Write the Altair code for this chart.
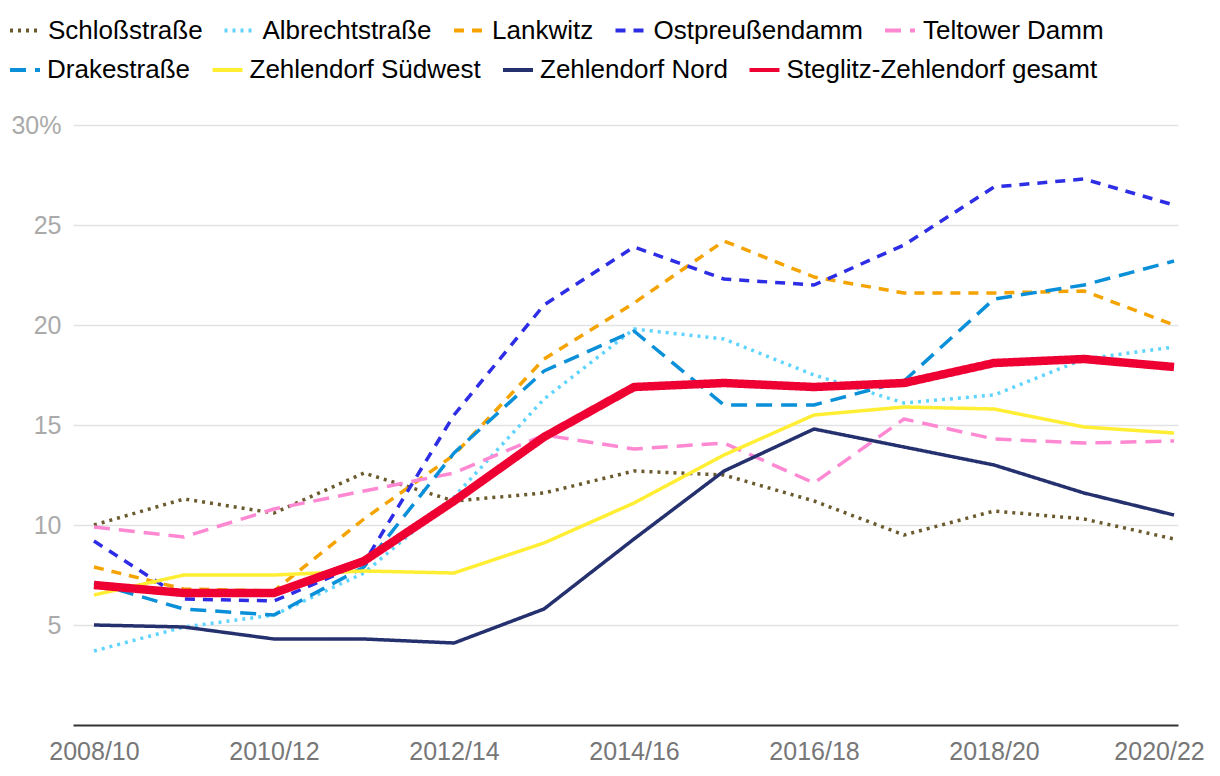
import altair as alt
import pandas as pd

periods = ["2008/10", "2009/11", "2010/12", "2011/13", "2012/14", "2013/15", "2014/16",
           "2015/17", "2016/18", "2017/19", "2018/20", "2019/21", "2020/22"]

series_names = ["Schloßstraße", "Albrechtstraße", "Lankwitz", "Ostpreußendamm", "Teltower Damm",
                "Drakestraße", "Zehlendorf Südwest", "Zehlendorf Nord", "Steglitz-Zehlendorf gesamt"]

schlossstrasse = [10.0, 11.3, 10.6, 12.6, 11.2, 11.6, 12.7, 12.5, 11.2, 9.5, 10.7, 10.3, 9.3]
albrechtstrasse = [3.7, 4.9, 5.5, 7.6, 11.4, 16.3, 19.8, 19.3, 17.5, 16.1, 16.5, 18.3, 18.9]
lankwitz = [7.9, 6.8, 6.7, 10.3, 13.5, 18.3, 21.1, 24.2, 22.4, 21.6, 21.6, 21.7, 20.0]
ostpreussendamm = [9.2, 6.3, 6.2, 8.1, 15.5, 21.0, 23.9, 22.3, 22.0, 24.0, 26.9, 27.3, 26.0]
teltower_damm = [9.9, 9.4, 10.8, 11.7, 12.6, 14.5, 13.8, 14.1, 12.1, 15.3, 14.3, 14.1, 14.2]
drakestrasse = [7.1, 5.8, 5.5, 7.9, 13.6, 17.7, 19.7, 16.0, 16.0, 17.2, 21.3, 22.0, 23.2]
zehlendorf_suedwest = [6.5, 7.5, 7.5, 7.7, 7.6, 9.1, 11.1, 13.5, 15.5, 15.9, 15.8, 14.9, 14.6]
zehlendorf_nord = [5.0, 4.9, 4.3, 4.3, 4.1, 5.8, 9.3, 12.7, 14.8, 13.9, 13.0, 11.6, 10.5]
gesamt = [7.0, 6.6, 6.6, 8.2, 11.2, 14.4, 16.9, 17.1, 16.9, 17.1, 18.1, 18.3, 17.9]

all_values = [schlossstrasse, albrechtstrasse, lankwitz, ostpreussendamm, teltower_damm,
              drakestrasse, zehlendorf_suedwest, zehlendorf_nord, gesamt]

colors = ["#6b5a2e", "#5fd4ff", "#f5a300", "#2d2de6", "#ff88d2",
          "#0a8fd9", "#ffee33", "#25306e", "#ee0033"]
dashes = [[3, 5], [3, 5], [10, 8], [10, 8], [16, 9],
          [16, 9], [1, 0], [1, 0], [1, 0]]
thin_width = 3.5
thick_width = 8.5
thick_series = "Steglitz-Zehlendorf gesamt"

rows = []
for name, vals in zip(series_names, all_values):
    for i, (p, v) in enumerate(zip(periods, vals)):
        rows.append({"Gebiet": name, "idx": i, "Zeitraum": p, "Wert": v})
df = pd.DataFrame(rows)

label_expr = "[" + ",".join("'" + p + "'" for p in periods) + "][datum.value]"

x_enc = alt.X("idx:Q",
              scale=alt.Scale(domain=[-0.233, 12.044], nice=False, zero=False),
              axis=alt.Axis(title=None, values=list(range(0, 13, 2)), labelExpr=label_expr,
                            grid=False, ticks=False, domainColor="#333333", domainWidth=2,
                            labelFontSize=25, labelFont="Liberation Sans", labelColor="#777777",
                            labelPadding=14,
                            labelOffset=alt.ConditionalAxisNumber(
                                condition={"test": "datum.value == 12", "value": -15}, value=0)))
y_enc = alt.Y("Wert:Q",
              scale=alt.Scale(domain=[0, 30], nice=False),
              axis=alt.Axis(title=None, values=[5, 10, 15, 20, 25, 30],
                            labelExpr="datum.value == 30 ? '30%' : datum.value",
                            grid=True, gridColor="#e3e3e3", gridWidth=1.5,
                            ticks=False, domain=False, labelFontSize=25,
                            labelFont="Liberation Sans", labelColor="#aaaaaa",
                            labelPadding=12))


def make_layer(names, cols, dsh, ly, loff):
    legend = alt.Legend(
        title=None, orient="none", legendX=-65, legendY=ly, direction="horizontal",
        symbolType="stroke", symbolSize=900, symbolStrokeWidth=4,
        labelFontSize=26, labelFont="Liberation Sans", labelColor="#000000",
        labelOffset=loff, columnPadding=13.5, labelLimit=400,
    )
    sub = df[df["Gebiet"].isin(names)]
    return alt.Chart(sub).mark_line(strokeJoin="round").encode(
        x=x_enc, y=y_enc,
        color=alt.Color("Gebiet:N", scale=alt.Scale(domain=names, range=cols), legend=legend),
        strokeDash=alt.StrokeDash("Gebiet:N", scale=alt.Scale(domain=names, range=dsh), legend=legend),
        strokeWidth=alt.condition(alt.datum.Gebiet == thick_series,
                                  alt.value(thick_width), alt.value(thin_width)),
        order=alt.Order("idx:Q"),
    )


layer_a = make_layer(series_names[:5], colors[:5], dashes[:5], -111.5, 6)
layer_b = make_layer(series_names[5:], colors[5:], dashes[5:], -72, 5)

chart = alt.layer(layer_a, layer_b).resolve_scale(
    color="independent", strokeDash="independent"
).properties(
    width=1105, height=600, padding={"top": 5, "left": 0, "right": 0, "bottom": 0}
).configure(font="Liberation Sans").configure_view(stroke=None)

chart.save("out.html", embed_options={"renderer": "svg", "actions": False})
